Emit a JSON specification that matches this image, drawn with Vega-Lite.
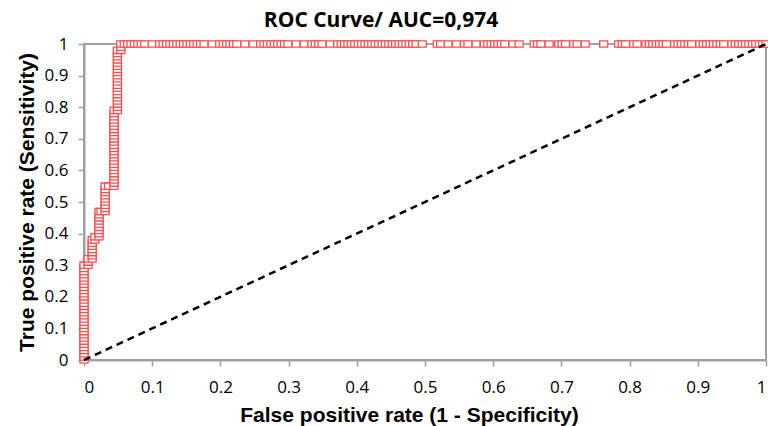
{
  "$schema": "https://vega.github.io/schema/vega-lite/v6.json",
  "width": 682,
  "height": 316,
  "autosize": {"type": "none"},
  "padding": {"left": 84, "top": 44, "right": 2, "bottom": 66},
  "background": "white",
  "title": {
    "text": "ROC Curve/ AUC=0,974",
    "font": "Open Sans",
    "fontSize": 21,
    "fontWeight": "bold",
    "color": "black",
    "anchor": "middle",
    "baseline": "alphabetic",
    "offset": 14,
    "dy": 27,
    "dx": -44
  },
  "datasets": {
    "roc": [
      {"x": 0, "y": 0}, {"x": 0, "y": 0.01}, {"x": 0, "y": 0.02}, {"x": 0, "y": 0.03}, {"x": 0, "y": 0.04}, {"x": 0, "y": 0.05}, {"x": 0, "y": 0.06}, {"x": 0, "y": 0.07}, {"x": 0, "y": 0.08}, {"x": 0, "y": 0.09}, {"x": 0, "y": 0.10},
      {"x": 0, "y": 0.11}, {"x": 0, "y": 0.12}, {"x": 0, "y": 0.13}, {"x": 0, "y": 0.14}, {"x": 0, "y": 0.15}, {"x": 0, "y": 0.16}, {"x": 0, "y": 0.17}, {"x": 0, "y": 0.18}, {"x": 0, "y": 0.19}, {"x": 0, "y": 0.20},
      {"x": 0, "y": 0.21}, {"x": 0, "y": 0.22}, {"x": 0, "y": 0.23}, {"x": 0, "y": 0.24}, {"x": 0, "y": 0.25}, {"x": 0, "y": 0.26}, {"x": 0, "y": 0.27}, {"x": 0, "y": 0.28}, {"x": 0, "y": 0.29}, {"x": 0, "y": 0.30},
      {"x": 0.006, "y": 0.30}, {"x": 0.006, "y": 0.31}, {"x": 0.006, "y": 0.32},
      {"x": 0.012, "y": 0.32}, {"x": 0.012, "y": 0.33}, {"x": 0.012, "y": 0.34}, {"x": 0.012, "y": 0.35}, {"x": 0.012, "y": 0.36}, {"x": 0.012, "y": 0.37}, {"x": 0.012, "y": 0.38},
      {"x": 0.016, "y": 0.38}, {"x": 0.016, "y": 0.39},
      {"x": 0.022, "y": 0.39}, {"x": 0.022, "y": 0.40}, {"x": 0.022, "y": 0.41}, {"x": 0.022, "y": 0.42}, {"x": 0.022, "y": 0.43}, {"x": 0.022, "y": 0.44}, {"x": 0.022, "y": 0.45}, {"x": 0.022, "y": 0.46}, {"x": 0.022, "y": 0.47},
      {"x": 0.025, "y": 0.47},
      {"x": 0.031, "y": 0.47}, {"x": 0.031, "y": 0.48}, {"x": 0.031, "y": 0.49}, {"x": 0.031, "y": 0.50}, {"x": 0.031, "y": 0.51}, {"x": 0.031, "y": 0.52}, {"x": 0.031, "y": 0.53}, {"x": 0.031, "y": 0.54}, {"x": 0.031, "y": 0.55},
      {"x": 0.036, "y": 0.55},
      {"x": 0.044, "y": 0.55}, {"x": 0.044, "y": 0.56}, {"x": 0.044, "y": 0.57}, {"x": 0.044, "y": 0.58}, {"x": 0.044, "y": 0.59}, {"x": 0.044, "y": 0.60}, {"x": 0.044, "y": 0.61}, {"x": 0.044, "y": 0.62}, {"x": 0.044, "y": 0.63}, {"x": 0.044, "y": 0.64},
      {"x": 0.044, "y": 0.65}, {"x": 0.044, "y": 0.66}, {"x": 0.044, "y": 0.67}, {"x": 0.044, "y": 0.68}, {"x": 0.044, "y": 0.69}, {"x": 0.044, "y": 0.70}, {"x": 0.044, "y": 0.71}, {"x": 0.044, "y": 0.72}, {"x": 0.044, "y": 0.73}, {"x": 0.044, "y": 0.74},
      {"x": 0.044, "y": 0.75}, {"x": 0.044, "y": 0.76}, {"x": 0.044, "y": 0.77}, {"x": 0.044, "y": 0.78}, {"x": 0.044, "y": 0.79},
      {"x": 0.049, "y": 0.79}, {"x": 0.049, "y": 0.80}, {"x": 0.049, "y": 0.81}, {"x": 0.049, "y": 0.82}, {"x": 0.049, "y": 0.83}, {"x": 0.049, "y": 0.84}, {"x": 0.049, "y": 0.85}, {"x": 0.049, "y": 0.86}, {"x": 0.049, "y": 0.87}, {"x": 0.049, "y": 0.88},
      {"x": 0.049, "y": 0.89}, {"x": 0.049, "y": 0.90}, {"x": 0.049, "y": 0.91}, {"x": 0.049, "y": 0.92}, {"x": 0.049, "y": 0.93}, {"x": 0.049, "y": 0.94}, {"x": 0.049, "y": 0.95}, {"x": 0.049, "y": 0.96}, {"x": 0.049, "y": 0.97}, {"x": 0.049, "y": 0.98},
      {"x": 0.054, "y": 0.98}, {"x": 0.054, "y": 0.99}, {"x": 0.054, "y": 1},
      {"x": 0.059, "y": 1}, {"x": 0.064, "y": 1}, {"x": 0.069, "y": 1}, {"x": 0.074, "y": 1}, {"x": 0.079, "y": 1}, {"x": 0.084, "y": 1}, {"x": 0.089, "y": 1}, {"x": 0.100, "y": 1},
      {"x": 0.111, "y": 1}, {"x": 0.116, "y": 1}, {"x": 0.121, "y": 1}, {"x": 0.126, "y": 1}, {"x": 0.131, "y": 1}, {"x": 0.136, "y": 1}, {"x": 0.141, "y": 1}, {"x": 0.146, "y": 1}, {"x": 0.151, "y": 1}, {"x": 0.156, "y": 1},
      {"x": 0.161, "y": 1}, {"x": 0.166, "y": 1}, {"x": 0.171, "y": 1}, {"x": 0.176, "y": 1}, {"x": 0.188, "y": 1}, {"x": 0.199, "y": 1}, {"x": 0.204, "y": 1}, {"x": 0.209, "y": 1}, {"x": 0.214, "y": 1}, {"x": 0.219, "y": 1},
      {"x": 0.224, "y": 1}, {"x": 0.236, "y": 1}, {"x": 0.248, "y": 1}, {"x": 0.259, "y": 1}, {"x": 0.264, "y": 1}, {"x": 0.269, "y": 1}, {"x": 0.274, "y": 1}, {"x": 0.279, "y": 1}, {"x": 0.284, "y": 1}, {"x": 0.289, "y": 1},
      {"x": 0.294, "y": 1}, {"x": 0.299, "y": 1}, {"x": 0.311, "y": 1}, {"x": 0.323, "y": 1}, {"x": 0.334, "y": 1}, {"x": 0.339, "y": 1}, {"x": 0.344, "y": 1}, {"x": 0.349, "y": 1}, {"x": 0.361, "y": 1}, {"x": 0.372, "y": 1},
      {"x": 0.377, "y": 1}, {"x": 0.382, "y": 1}, {"x": 0.387, "y": 1}, {"x": 0.392, "y": 1}, {"x": 0.397, "y": 1}, {"x": 0.402, "y": 1}, {"x": 0.407, "y": 1}, {"x": 0.412, "y": 1}, {"x": 0.417, "y": 1}, {"x": 0.422, "y": 1},
      {"x": 0.427, "y": 1}, {"x": 0.432, "y": 1}, {"x": 0.437, "y": 1}, {"x": 0.442, "y": 1}, {"x": 0.447, "y": 1}, {"x": 0.452, "y": 1}, {"x": 0.457, "y": 1}, {"x": 0.462, "y": 1}, {"x": 0.467, "y": 1}, {"x": 0.472, "y": 1},
      {"x": 0.477, "y": 1}, {"x": 0.482, "y": 1}, {"x": 0.487, "y": 1}, {"x": 0.496, "y": 1}, {"x": 0.518, "y": 1}, {"x": 0.523, "y": 1}, {"x": 0.534, "y": 1}, {"x": 0.546, "y": 1}, {"x": 0.558, "y": 1}, {"x": 0.563, "y": 1},
      {"x": 0.575, "y": 1}, {"x": 0.587, "y": 1}, {"x": 0.592, "y": 1}, {"x": 0.597, "y": 1}, {"x": 0.602, "y": 1}, {"x": 0.607, "y": 1}, {"x": 0.612, "y": 1}, {"x": 0.617, "y": 1}, {"x": 0.629, "y": 1}, {"x": 0.638, "y": 1},
      {"x": 0.660, "y": 1}, {"x": 0.665, "y": 1}, {"x": 0.670, "y": 1}, {"x": 0.682, "y": 1}, {"x": 0.696, "y": 1}, {"x": 0.701, "y": 1}, {"x": 0.706, "y": 1}, {"x": 0.718, "y": 1}, {"x": 0.723, "y": 1}, {"x": 0.735, "y": 1},
      {"x": 0.762, "y": 1}, {"x": 0.784, "y": 1}, {"x": 0.789, "y": 1}, {"x": 0.794, "y": 1}, {"x": 0.806, "y": 1}, {"x": 0.811, "y": 1}, {"x": 0.824, "y": 1}, {"x": 0.829, "y": 1}, {"x": 0.834, "y": 1}, {"x": 0.839, "y": 1},
      {"x": 0.844, "y": 1}, {"x": 0.849, "y": 1}, {"x": 0.854, "y": 1}, {"x": 0.866, "y": 1}, {"x": 0.871, "y": 1}, {"x": 0.876, "y": 1}, {"x": 0.881, "y": 1}, {"x": 0.886, "y": 1}, {"x": 0.891, "y": 1}, {"x": 0.903, "y": 1},
      {"x": 0.908, "y": 1}, {"x": 0.913, "y": 1}, {"x": 0.918, "y": 1}, {"x": 0.923, "y": 1}, {"x": 0.928, "y": 1}, {"x": 0.933, "y": 1}, {"x": 0.938, "y": 1}, {"x": 0.950, "y": 1}, {"x": 0.955, "y": 1}, {"x": 0.960, "y": 1},
      {"x": 0.965, "y": 1}, {"x": 0.970, "y": 1}, {"x": 0.975, "y": 1}, {"x": 0.980, "y": 1}, {"x": 0.985, "y": 1}, {"x": 0.990, "y": 1}, {"x": 0.995, "y": 1}, {"x": 1, "y": 1}
    ],
    "diag": [
      {"x": 0, "y": 0},
      {"x": 1, "y": 1}
    ]
  },
  "encoding": {
    "x": {
      "field": "x",
      "type": "quantitative",
      "scale": {"domain": [0, 1], "nice": false, "zero": false},
      "axis": {
        "title": "False positive rate (1 - Specificity)",
        "values": [0, 0.1, 0.2, 0.3, 0.4, 0.5, 0.6, 0.7, 0.8, 0.9, 1],
        "format": ".1~f",
        "labelPadding": 13,
        "titleBaseline": "alphabetic",
        "titleFontSize": 21,
        "titleX": 325,
        "titleY": 61
      }
    },
    "y": {
      "field": "y",
      "type": "quantitative",
      "scale": {"domain": [0, 1], "nice": false, "zero": false},
      "axis": {
        "title": "True positive rate (Sensitivity)",
        "values": [0, 0.1, 0.2, 0.3, 0.4, 0.5, 0.6, 0.7, 0.8, 0.9, 1],
        "format": ".1~f",
        "labelPadding": 10,
        "titleX": -57,
        "titleY": 158,
        "titleBaseline": "middle",
        "titleAlign": "center"
      }
    }
  },
  "layer": [
    {
      "data": {"name": "roc"},
      "mark": {"type": "line", "color": "#A6A6A6", "strokeWidth": 1.5},
      "encoding": {"order": {"value": null}}
    },
    {
      "data": {"name": "roc"},
      "mark": {
        "type": "point",
        "shape": "M-1,-0.8H1V0.8H-1Z",
        "size": 64,
        "filled": false,
        "fill": "white",
        "fillOpacity": 1,
        "stroke": "#FF5050",
        "strokeWidth": 1.3,
        "opacity": 1
      }
    },
    {
      "data": {"name": "diag"},
      "mark": {"type": "line", "color": "black", "strokeWidth": 2.5, "strokeDash": [7, 5]},
      "encoding": {}
    }
  ],
  "config": {
    "view": {"stroke": "#A0A0A0", "strokeWidth": 2},
    "axis": {
      "grid": false,
      "domainColor": "#A0A0A0",
      "domainWidth": 2,
      "tickColor": "#A0A0A0",
      "tickWidth": 1.5,
      "tickSize": 6,
      "labelFont": "Open Sans",
      "labelFontSize": 17,
      "labelColor": "black",
      "titleFont": "Liberation Sans",
      "titleFontSize": 21,
      "titleFontWeight": "bold",
      "titleColor": "black"
    }
  }
}
